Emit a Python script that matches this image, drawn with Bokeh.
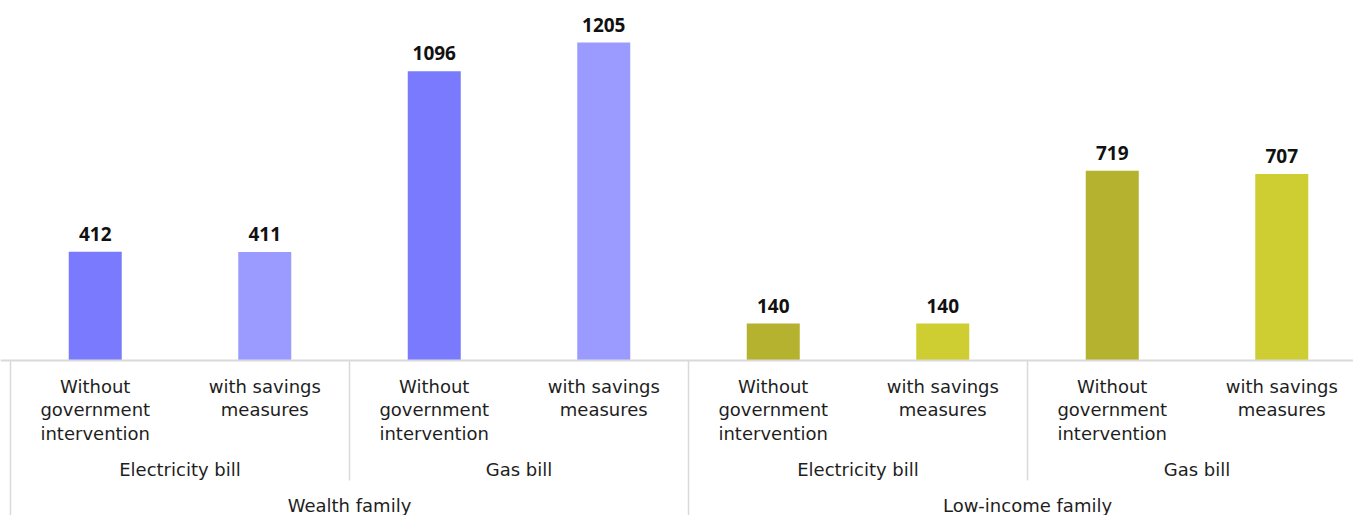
from bokeh.plotting import figure
from bokeh.models import ColumnDataSource, Range1d, Span
from bokeh.core.properties import value
from bokeh.embed import file_html
from bokeh.resources import INLINE

# ---- data ----
families = ["Wealth family"] * 4 + ["Low-income family"] * 4
bills = ["Electricity bill", "Electricity bill", "Gas bill", "Gas bill"] * 2
scenarios = ["Without\ngovernment\nintervention", "with savings\nmeasures"] * 4
values = [412, 411, 1096, 1205, 140, 140, 719, 707]
colors = ["#7A7AFF", "#9B9BFF", "#7A7AFF", "#9B9BFF",
          "#B4B22E", "#CECE32", "#B4B22E", "#CECE32"]

W, H = 1353, 515
CAT_PX = 169.5
LEFT_PX = 10
BASE_PX = 360
TOP_VAL = 1205
TOP_PX = 42
k = (BASE_PX - TOP_PX) / TOP_VAL  # px per unit

LABEL_FONT = value("DejaVu Sans")
LABEL_SIZE = "18px"
LABEL_COLOR = "#1E1E1E"

n = len(values)
xs = [i + 0.5 for i in range(n)]

p = figure(width=W, height=H, output_backend="svg", toolbar_location=None,
           x_range=Range1d(-LEFT_PX / CAT_PX, (W - LEFT_PX) / CAT_PX),
           y_range=Range1d(-(H - BASE_PX) / k, BASE_PX / k),
           min_border=0, min_border_left=0, min_border_right=0,
           min_border_top=0, min_border_bottom=0)
p.axis.visible = False
p.grid.visible = False
p.outline_line_color = None
p.background_fill_color = "white"
p.border_fill_color = "white"

src = ColumnDataSource(dict(x=xs, top=values, color=colors,
                            label=[str(v) for v in values],
                            scen=scenarios))

# baseline
p.add_layout(Span(location=0, dimension="width", line_color="#D9D9D9", line_width=2))

p.vbar(x="x", top="top", bottom=0, width=53 / CAT_PX, fill_color="color",
       line_color=None, source=src)

# value labels
p.text(x="x", y="top", text="label", source=src, text_align="center",
       text_baseline="alphabetic", y_offset=-18, text_font=value("Noto Sans"),
       text_font_style="bold", text_font_size="19px", text_color="#111111")

# level 1 labels
p.text(x="x", y=0, text="scen", source=src, text_align="center",
       text_baseline="top", y_offset=15, text_line_height=1.12,
       text_font=LABEL_FONT, text_font_size=LABEL_SIZE, text_color=LABEL_COLOR)

# level 2 (bill) groups
bill_groups = []
for i in range(n):
    key = (families[i], bills[i])
    if not bill_groups or bill_groups[-1][0] != key:
        bill_groups.append([key, i, i + 1])
    else:
        bill_groups[-1][2] = i + 1
p.text(x=[(g[1] + g[2]) / 2 for g in bill_groups], y=[0] * len(bill_groups),
       text=[g[0][1] for g in bill_groups], text_align="center",
       text_baseline="alphabetic", y_offset=109, text_font=LABEL_FONT,
       text_font_size=LABEL_SIZE, text_color=LABEL_COLOR)

# level 3 (family) groups
fam_groups = []
for i in range(n):
    if not fam_groups or fam_groups[-1][0] != families[i]:
        fam_groups.append([families[i], i, i + 1])
    else:
        fam_groups[-1][2] = i + 1
p.text(x=[(g[1] + g[2]) / 2 for g in fam_groups], y=[0] * len(fam_groups),
       text=[g[0] for g in fam_groups], text_align="center",
       text_baseline="alphabetic", y_offset=145, text_font=LABEL_FONT,
       text_font_size=LABEL_SIZE, text_color=LABEL_COLOR)

# separators
long_x = sorted(set([g[1] for g in fam_groups] + [g[2] for g in fam_groups]))
short_x = sorted(set(g[1] for g in bill_groups) - set(long_x))
p.segment(x0=long_x, x1=long_x, y0=[0] * len(long_x),
          y1=[-(H - BASE_PX) / k] * len(long_x), line_color="#D9D9D9", line_width=1.5)
p.segment(x0=short_x, x1=short_x, y0=[0] * len(short_x),
          y1=[-(480 - BASE_PX) / k] * len(short_x), line_color="#D9D9D9", line_width=1.5)

open("out.html", "w").write(file_html(p, INLINE))
